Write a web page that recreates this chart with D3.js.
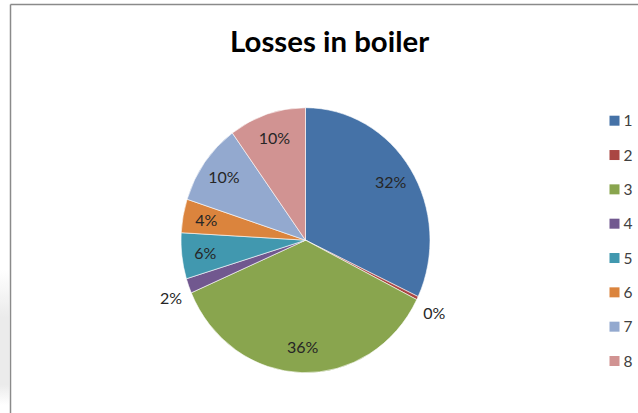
<!DOCTYPE html>
<html>
<head>
<meta charset="utf-8">
<script src="https://cdn.jsdelivr.net/npm/d3@7"></script>
<style>
  html, body { margin: 0; padding: 0; background: #ffffff; }
  svg { display: block; }
</style>
</head>
<body>
<svg id="chart" width="638" height="413"></svg>
<script>
// ---- data ----
const title = "Losses in boiler";
const categories = ["1", "2", "3", "4", "5", "6", "7", "8"];
const values = [32, 0.4, 36.1, 1.8, 5.6, 4.1, 10, 10];
const colors = ["#4572A7", "#AA4643", "#89A54E", "#71588F", "#4198AF", "#DB843D", "#93A9CF", "#D19392"];

// ---- layout ----
const W = 638, H = 413;
const cx = 305.5, cy = 240.2, rx = 124.5, ry = 132.5;
const sy = ry / rx;

const svg = d3.select("#chart");

// faint shading at left edge (scan artifact)
const defs = svg.append("defs");
const grad = defs.append("linearGradient").attr("id", "shade").attr("x1", 0).attr("y1", 0).attr("x2", 0).attr("y2", 1);
grad.append("stop").attr("offset", "0%").attr("stop-color", "#ffffff");
grad.append("stop").attr("offset", "35%").attr("stop-color", "#ebebeb");
grad.append("stop").attr("offset", "85%").attr("stop-color", "#ebebeb");
grad.append("stop").attr("offset", "100%").attr("stop-color", "#ffffff");
svg.append("rect").attr("x", 0).attr("y", 270).attr("width", 9).attr("height", 135).attr("fill", "url(#shade)");

// chart frame (top and left edges visible)
svg.append("line").attr("x1", 10.5).attr("y1", 4.5).attr("x2", W).attr("y2", 4.5)
  .attr("stroke", "#8a8a8a").attr("stroke-width", 1.5);
svg.append("line").attr("x1", 10.5).attr("y1", 4.5).attr("x2", 10.5).attr("y2", H)
  .attr("stroke", "#8a8a8a").attr("stroke-width", 1.5);

// title
const t = svg.append("text")
  .attr("x", 329.6).attr("y", 52)
  .attr("text-anchor", "middle")
  .attr("font-family", "Lato, 'Open Sans', sans-serif")
  .attr("font-weight", 700)
  .attr("font-size", 29)
  .attr("fill", "#000")
  .text(title);
t.attr("textLength", 199).attr("lengthAdjust", "spacingAndGlyphs");

// pie
const data = categories.map((c, i) => ({ cat: c, value: values[i], color: colors[i] }));
const pie = d3.pie().sort(null).value(d => d.value).startAngle(0).endAngle(2 * Math.PI);
const arcs = pie(data);
const arc = d3.arc().innerRadius(0).outerRadius(rx);

const g = svg.append("g").attr("transform", `translate(${cx},${cy}) scale(1,${sy})`);
g.selectAll("path").data(arcs).enter().append("path")
  .attr("d", arc)
  .attr("fill", d => d.data.color)
  .attr("stroke", "#ffffff")
  .attr("stroke-width", 0.6)
  .attr("vector-effect", "non-scaling-stroke");

// data labels
const total = d3.sum(values);
const insideArc = d3.arc().innerRadius(rx * 0.81).outerRadius(rx * 0.81);
const outsideArc = d3.arc().innerRadius(rx * 1.15).outerRadius(rx * 1.15);
svg.append("g").selectAll("text").data(arcs).enter().append("text")
  .attr("transform", d => {
    const pct = d.data.value / total * 100;
    const outside = pct < 3;
    const c = (outside ? outsideArc : insideArc).centroid(d);
    return `translate(${cx + c[0]},${cy + c[1] * sy + (outside ? 6 : 0)})`;
  })
  .attr("text-anchor", "middle")
  .attr("dy", "0.36em")
  .attr("font-family", "Lato, 'Open Sans', sans-serif")
  .attr("font-size", 16)
  .attr("fill", "#262626")
  .text(d => Math.round(d.data.value / total * 100) + "%");

// legend
const legendY = d3.scalePoint().domain(categories).range([120.7, 361]);
const lg = svg.append("g");
const items = lg.selectAll("g").data(data).enter().append("g")
  .attr("transform", d => `translate(609.5,${legendY(d.cat)})`);
items.append("rect").attr("x", 0).attr("y", -5).attr("width", 10).attr("height", 10)
  .attr("fill", d => d.color);
items.append("text").attr("x", 14).attr("y", 0).attr("dy", "0.36em")
  .attr("font-family", "Lato, 'Open Sans', sans-serif")
  .attr("font-size", 15.5)
  .attr("fill", "#404040")
  .text(d => d.cat);
</script>
</body>
</html>
